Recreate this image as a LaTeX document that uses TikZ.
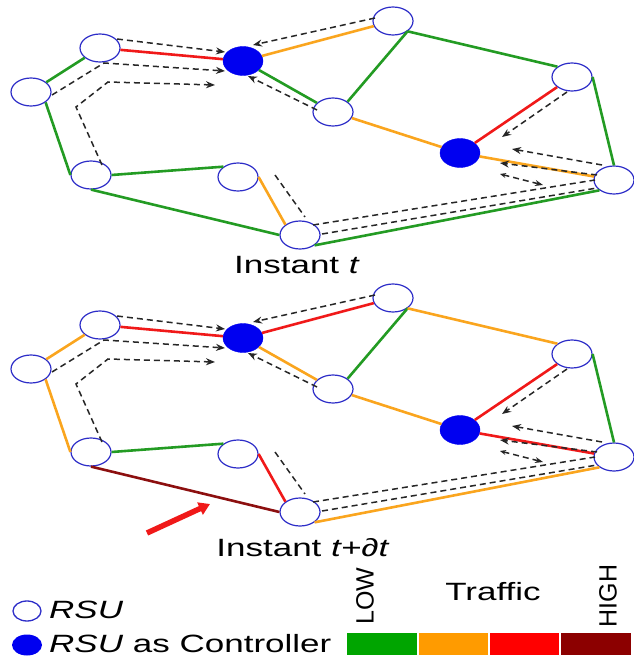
\documentclass[tikz,border=0pt]{standalone}
\usepackage{fontspec}
\setmainfont{Liberation Sans}
\usetikzlibrary{shapes.geometric,arrows.meta}
\definecolor{eg}{RGB}{35,155,35}
\definecolor{eo}{RGB}{250,165,30}
\definecolor{er}{RGB}{240,25,25}
\definecolor{ed}{RGB}{140,15,15}
\definecolor{rsublue}{RGB}{45,45,200}
\definecolor{ctrlblue}{RGB}{0,0,240}
\definecolor{lg}{RGB}{0,165,0}
\definecolor{lo}{RGB}{255,155,0}
\definecolor{lr}{RGB}{255,0,0}
\definecolor{ld}{RGB}{140,0,0}
\tikzset{
  rsu/.style={ellipse, draw=rsublue, line width=1.2pt, fill=white, minimum width=40pt, minimum height=28pt, inner sep=0pt},
  ctrl/.style={ellipse, draw=ctrlblue, fill=ctrlblue, minimum width=40pt, minimum height=29pt, inner sep=0pt},
  road/.style={line width=2.6pt},
  msgplain/.style={line width=1.5pt, black!85, dash pattern=on 6pt off 4pt},
  msg/.style={msgplain, -{Stealth[length=9pt,width=7pt]}},
  msgboth/.style={msgplain, {Stealth[length=8pt,width=6pt]}-{Stealth[length=6pt,width=5pt]}},
  lbl/.style={inner sep=0pt, font=\fontsize{25}{30}\selectfont},
}
\newcommand{\netnodes}[1]{%
  \node[rsu] (#1A) at (100,48) {};
  \node[rsu] (#1B) at (31,92) {};
  \node[rsu] (#1C) at (91,175) {};
  \node[rsu] (#1D) at (238,177) {};
  \node[rsu] (#1E) at (300,235) {};
  \node[ctrl] (#1K) at (243,61) {};
  \node[rsu] (#1F) at (393,21) {};
  \node[rsu] (#1G) at (333,112) {};
  \node[ctrl] (#1L) at (460,153) {};
  \node[rsu] (#1H) at (572,77) {};
  \node[rsu] (#1I) at (614,180) {};
}
\newcommand{\netroutes}{%
  \draw[msg] (117,39) -- (225,52);
  \draw[msg] (52,95) -- (104,63) -- (225,71);
  \draw[msg] (102,165) -- (76,107) -- (108,82) -- (215,85);
  \draw[msg] (317,110) -- (248,76);
  \draw[msg] (375,18) -- (253,45);
  \draw[msg] (567,92) -- (502,137);
  \draw[msg] (602,165) -- (512,149);
  \draw[msg] (597,175) -- (500,163);
  \draw[msgboth] (543,185) -- (500,174);
  \draw[msgplain] (275,175) -- (305,217);
  \draw[msgplain] (313,225) -- (595,180);
  \draw[msgplain] (322,234) -- (597,188);
}
\begin{document}
\begin{tikzpicture}[x=1pt,y=-1pt]
\useasboundingbox (0,0) rectangle (633,658);
% ---------- instant t ----------
\begin{scope}
\netnodes{t}
\draw[road,eg] (tA) -- (tB);
\draw[road,eg] (tB.south east) -- (tC.west);
\draw[road,eg] (tC.east) -- (tD.north west);
\draw[road,eg] (tC.south) -- (tE.west);
\draw[road,eo] (tD.east) -- (tE.north west);
\draw[road,er] (tA) -- (tK);
\draw[road,eo] (tK) -- (tF);
\draw[road,eg] (tK) -- (tG);
\draw[road,eg] (tF.south east) -- (tG.north east);
\draw[road,eg] (tF.south east) -- (tH.north west);
\draw[road,eo] (tG) -- (tL);
\draw[road,er] (tL) -- (tH);
\draw[road,eo] (tL) -- (tI);
\draw[road,eg] (tH.east) -- (tI.north);
\draw[road,eg] (tE.south east) -- (tI.south west);
\netroutes
\end{scope}
\node[lbl] (it1) at (297,265) {\scalebox{1.4}[1]{Instant \textit{t}}};
% ---------- instant t + dt ----------
\begin{scope}[shift={(0,277)}]
\netnodes{u}
\draw[road,eo] (uA) -- (uB);
\draw[road,eo] (uB.south east) -- (uC.west);
\draw[road,eg] (uC.east) -- (uD.north west);
\draw[road,ed] (uC.south) -- (uE.west);
\draw[road,er] (uD.east) -- (uE.north west);
\draw[road,er] (uA) -- (uK);
\draw[road,er] (uK) -- (uF);
\draw[road,eo] (uK) -- (uG);
\draw[road,eg] (uF.south east) -- (uG.north east);
\draw[road,eo] (uF.south east) -- (uH.north west);
\draw[road,eo] (uG) -- (uL);
\draw[road,er] (uL) -- (uH);
\draw[road,er] (uL) -- (uI);
\draw[road,eg] (uH.east) -- (uI.north);
\draw[road,eo] (uE.south east) -- (uI.south west);
\netroutes
\end{scope}
\coordinate (ra) at (147,533);
\coordinate (rb) at (210,504);
\draw[line width=5.5pt, er, -{Triangle[length=11pt,width=13pt]}] (ra) -- (rb);
\node[lbl] (it2) at (303,548) {\scalebox{1.4}[1]{Instant \textit{t+∂t}}};
% ---------- legend ----------
\node[ellipse, draw=rsublue, line width=1.3pt, minimum width=28pt, minimum height=20pt, inner sep=0pt] (lg1) at (27,611) {};
\node[ellipse, fill=ctrlblue, minimum width=30pt, minimum height=21pt, inner sep=0pt] (lg2) at (27,645) {};
\node[lbl, anchor=west] (lt1) at (49,610) {\scalebox{1.4}[1]{\textit{RSU}}};
\node[lbl, anchor=west] (lt2) at (49,644) {\scalebox{1.4}[1]{\textit{RSU} as Controller}};
\fill[lg] (347,633) rectangle (417,655);
\fill[lo] (418.5,633) rectangle (488,655);
\fill[lr] (489.5,633) rectangle (559,655);
\fill[ld] (560.5,633) rectangle (631,655);
\node[lbl, rotate=90] (low) at (365,596) {LOW};
\node[lbl, rotate=90] (high) at (608,596) {HIGH};
\node[lbl] (traf) at (493,592) {\scalebox{1.4}[1]{Traffic}};
\end{tikzpicture}
\end{document}
